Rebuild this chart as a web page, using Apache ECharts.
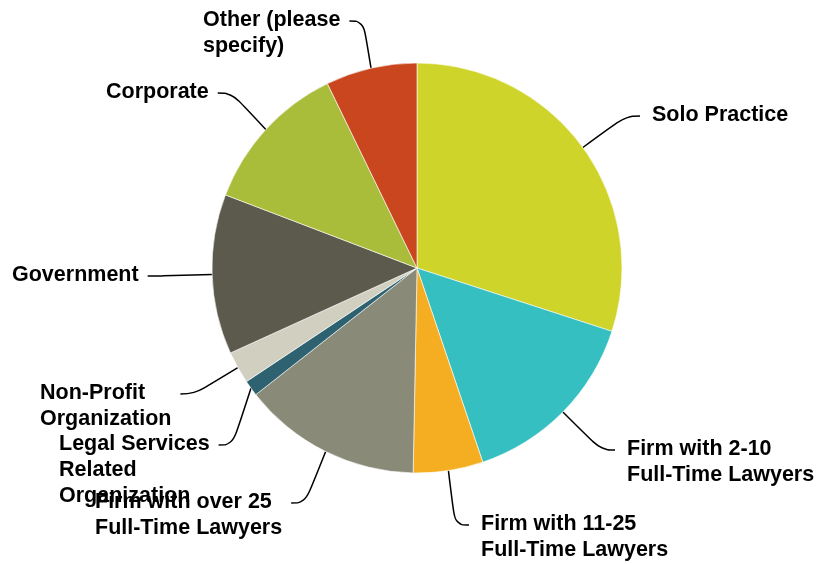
<!DOCTYPE html>
<html>
<head>
<meta charset="utf-8">
<script src="https://cdn.jsdelivr.net/npm/echarts@6/dist/echarts.min.js"></script>
<style>
  html, body { margin: 0; padding: 0; background: #fff; }
  #chart { width: 817px; height: 564px; }
</style>
</head>
<body>
<div id="chart"></div>
<script>
// practice settings, clockwise from 12 o'clock
var categories = [
  'Solo Practice',
  'Firm with 2-10\nFull-Time Lawyers',
  'Firm with 11-25\nFull-Time Lawyers',
  'Firm with over 25\nFull-Time Lawyers',
  'Legal Services\nRelated\nOrganization',
  'Non-Profit\nOrganization',
  'Government',
  'Corporate',
  'Other (please\nspecify)'
];
var shares = [30.0, 14.8, 5.5, 14.1, 1.25, 2.55, 12.6, 12.0, 7.2];
var colors = ['#cfd42a', '#35bfc0', '#f5ae22', '#8a8a79', '#2f6270',
              '#d0cfc0', '#5c5a4c', '#aabd3a', '#c9461e'];

// where each label block sits (left, top), and which side the leader joins
var labelPos = [
  [652, 102, 'L'], [627, 436, 'L'], [481, 511, 'L'], [95, 489, 'R'], [59, 431, 'R'],
  [40, 380, 'R'], [12, 262, 'R'], [106, 79, 'R'], [203, 7, 'R']
];
var LINE_H = 26;

var chart = echarts.init(document.getElementById('chart'));

var option = {
  color: colors,
  animation: false,
  series: [
    {
      type: 'pie',
      center: [417, 268],
      radius: 205,
      startAngle: 90,
      clockwise: true,
      itemStyle: {
        borderColor: '#ffffff',
        borderWidth: 0.6
      },
      label: {
        show: true,
        position: 'outside',
        color: '#000',
        fontFamily: '"Liberation Sans", Arial, sans-serif',
        fontWeight: 'bold',
        fontSize: 21.5,
        lineHeight: LINE_H,
        formatter: '{b}'
      },
      labelLine: {
        show: true,
        smooth: 0.45,
        lineStyle: { color: '#000', width: 1.5 }
      },
      labelLayout: function (params) {
        var p = labelPos[params.dataIndex];
        var start = params.labelLinePoints[0];
        var w = params.labelRect.width;
        var ey = p[1] + LINE_H / 2 + 1;
        var ex, mx;
        if (p[2] === 'L') {
          ex = p[0] - 12;
          mx = ex - 14;
        } else {
          ex = p[0] + w + 9;
          mx = ex + 14;
        }
        return {
          x: p[0], y: p[1], align: 'left', verticalAlign: 'top',
          labelLinePoints: [[start[0], start[1]], [mx, ey], [ex, ey]]
        };
      },
      data: categories.map(function (c, i) {
        return { name: c, value: shares[i] };
      })
    }
  ]
};

chart.setOption(option);
</script>
</body>
</html>
